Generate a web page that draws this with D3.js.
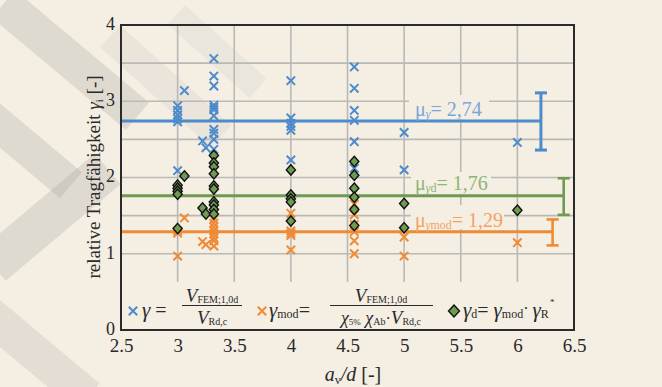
<!DOCTYPE html>
<html><head><meta charset="utf-8">
<script src="https://cdn.jsdelivr.net/npm/d3@7/dist/d3.min.js"></script>
<style>
html,body{margin:0;padding:0;background:#f4eee3;}
svg{display:block;font-family:"Liberation Serif","DejaVu Serif",serif;}
</style></head>
<body><svg id="c" width="662" height="387"></svg>
<script>
// ---- data ----
const xTicks = [2.5, 3, 3.5, 4, 4.5, 5, 5.5, 6, 6.5];
const xTickLabels = ["2.5","3","3.5","4","4.5","5","5.5","6","6.5"];
const yTicks = [0, 1, 2, 3, 4];
const yTickLabels = ["0","1","2","3","4"];
const gridX = [3, 3.5, 4, 4.5, 5, 5.5, 6];
const gridY = [0.5, 1, 1.5, 2, 2.5, 3, 3.5];

// gamma (blue x)
const gammaPts = [
 [3.0,2.94],[3.0,2.88],[3.0,2.82],[3.0,2.77],[3.0,2.73],[3.0,2.09],
 [3.06,3.14],[3.22,2.48],[3.25,2.39],
 [3.32,3.56],[3.32,3.33],[3.32,3.20],[3.32,2.95],[3.32,2.92],[3.32,2.89],[3.32,2.81],[3.32,2.63],[3.32,2.58],[3.32,2.50],[3.32,2.37],
 [4.0,3.27],[4.0,2.78],[4.0,2.71],[4.0,2.67],[4.0,2.62],[4.0,2.23],
 [4.56,3.45],[4.56,3.17],[4.56,2.88],[4.56,2.75],[4.56,2.47],[4.56,2.12],
 [5.0,2.59],[5.0,2.10],
 [6.0,2.46]
];
// gamma_mod (orange x)
const gammaModPts = [
 [3.0,1.30],[3.0,1.27],[3.0,0.97],[3.06,1.47],[3.22,1.16],[3.25,1.12],
 [3.32,1.45],[3.32,1.40],[3.32,1.35],[3.32,1.30],[3.32,1.26],[3.32,1.21],[3.32,1.17],[3.32,1.10],
 [4.0,1.53],[4.0,1.30],[4.0,1.27],[4.0,1.24],[4.0,1.05],
 [4.56,1.65],[4.56,1.51],[4.56,1.38],[4.56,1.29],[4.56,1.17],[4.56,1.00],
 [5.0,1.22],[5.0,0.97],
 [6.0,1.145]
];
// gamma_d (green diamonds)
const gammaDPts = [
 [3.0,1.90],[3.0,1.86],[3.0,1.82],[3.0,1.78],[3.0,1.33],[3.06,2.02],
 [3.22,1.60],[3.25,1.52],
 [3.32,2.29],[3.32,2.19],[3.32,2.14],[3.32,2.05],[3.32,1.89],[3.32,1.85],[3.32,1.68],[3.32,1.64],[3.32,1.58],[3.32,1.52],
 [4.0,2.10],[4.0,1.77],[4.0,1.72],[4.0,1.68],[4.0,1.43],
 [4.56,2.21],[4.56,2.03],[4.56,1.86],[4.56,1.74],[4.56,1.58],[4.56,1.37],
 [5.0,1.66],[5.0,1.34],
 [6.0,1.57]
];
// mean values and scatter bands
const meanNames = ["γ","γd","γmod"];
const meanVals = [2.74, 1.76, 1.29];
const meanLabels = ["2,74","1,76","1,29"];
const bandUpper = [3.11, 1.99, 1.45];
const bandLower = [2.36, 1.51, 1.11];
const bandX = [6.208, 6.409, 6.311];

// ---- styles ----
const C = {blue:"#4d8bcb", orange:"#ef8a35", green:"#6f9a52",
  blueT:"#7aa6d8", greenT:"#8db673", orangeT:"#f3a263",
  grid:"#b9b9b6", frame:"#2b2b2b", bg:"#f4eee3", txt:"#2a2a2a"};
const meanCol = [C.blue, C.green, C.orange];
const meanTxtCol = [C.blueT, C.greenT, C.orangeT];

const W=662,H=387, L=121, R=574, T=25, B=330;
const svg = d3.select("#c");
svg.append("rect").attr("width",W).attr("height",H).attr("fill",C.bg);

// faint watermark bands (decorative background)
const wm = svg.append("g").attr("fill","#8c8a86");
[[15,-10,175,36,40,0.20],[-10,95,120,34,40,0.20],[-20,250,150,40,-40,0.20],[0,300,130,36,40,0.16],
 [120,25,150,30,42,0.09],[185,5,110,26,42,0.08]].forEach(d=>{
  wm.append("rect").attr("x",d[0]).attr("y",d[1]).attr("width",d[2]).attr("height",d[3])
    .attr("transform",`rotate(${d[4]},${d[0]},${d[1]})`).attr("opacity",d[5]);
});

const x = d3.scaleLinear().domain([2.5,6.5]).range([L,R]);
const y = d3.scaleLinear().domain([0,4]).range([B,T]);

// gridlines
const g = svg.append("g");
g.selectAll(".gx").data(gridX).join("line").attr("x1",d=>x(d)).attr("x2",d=>x(d))
  .attr("y1",T).attr("y2",B).attr("stroke",C.grid).attr("stroke-width",1.6);
g.selectAll(".gy").data(gridY).join("line").attr("y1",d=>y(d)).attr("y2",d=>y(d))
  .attr("x1",L).attr("x2",R).attr("stroke",C.grid).attr("stroke-width",1.6);

// label background patches (hide gridlines behind the mean labels)
const labBoxes = [[409,95,80,24],[411,172,80,22],[411,205,93,24]];
svg.selectAll(".lb").data(labBoxes).join("rect").attr("x",d=>d[0]).attr("y",d=>d[1])
  .attr("width",d=>d[2]).attr("height",d=>d[3]).attr("fill",C.bg);

// mean lines
svg.selectAll(".ml").data(meanVals).join("line")
  .attr("x1",L).attr("x2",(d,i)=>x(bandX[i])).attr("y1",d=>y(d)).attr("y2",d=>y(d))
  .attr("stroke",(d,i)=>meanCol[i]).attr("stroke-width",3);
// scatter bands
const eb = svg.append("g");
meanVals.forEach((m,i)=>{
  const xx = x(bandX[i]);
  const gg = eb.append("g").attr("stroke",meanCol[i]).attr("stroke-width",i===0?3:2.6);
  gg.append("line").attr("x1",xx).attr("x2",xx).attr("y1",y(bandUpper[i])).attr("y2",y(bandLower[i]));
  gg.append("line").attr("x1",xx-6).attr("x2",xx+6).attr("y1",y(bandUpper[i])).attr("y2",y(bandUpper[i]));
  gg.append("line").attr("x1",xx-6).attr("x2",xx+6).attr("y1",y(bandLower[i])).attr("y2",y(bandLower[i]));
});

// mean labels
const labelBase = [116, 190, 227];
meanVals.forEach((m,i)=>{
  const t = svg.append("text").attr("x",415).attr("y",labelBase[i]).attr("fill",meanTxtCol[i])
    .attr("font-size",20);
  t.append("tspan").text("μ");
  t.append("tspan").attr("font-size",12).attr("dy",2).attr("font-style","italic").text(meanNames[i].charAt(0))
    .append("tspan").attr("font-style","normal").text(meanNames[i].slice(1));
  t.append("tspan").attr("dy",-2).text("= "+meanLabels[i]);
});

// markers
function cross(sel, col){
  sel.append("path").attr("d","M-4.2,-4.2L4.2,4.2M-4.2,4.2L4.2,-4.2").attr("stroke",col).attr("stroke-width",2).attr("fill","none");
}
const pB = svg.append("g").selectAll("g").data(gammaPts).join("g")
  .attr("transform",d=>`translate(${x(d[0])},${y(d[1])})`);
cross(pB, C.blue);
const pO = svg.append("g").selectAll("g").data(gammaModPts).join("g")
  .attr("transform",d=>`translate(${x(d[0])},${y(d[1])})`);
cross(pO, C.orange);
svg.append("g").selectAll("path").data(gammaDPts).join("path")
  .attr("transform",d=>`translate(${x(d[0])},${y(d[1])})`)
  .attr("d","M0,-5.2L4.6,0L0,5.2L-4.6,0Z").attr("fill",C.green).attr("stroke","#111").attr("stroke-width",1.4);

// legend
const lg = svg.append("g");
lg.append("rect").attr("x",L).attr("y",282).attr("width",R-L).attr("height",B-282).attr("fill",C.bg);
function rich(parent, xx, yy, parts, anchor){
  const t = parent.append("text").attr("x",xx).attr("y",yy).attr("text-anchor",anchor||"start").attr("fill",C.txt);
  let cur=0;
  parts.forEach(p=>{
    const s=t.append("tspan").text(p.t).attr("font-size",p.s||18);
    if(p.i) s.attr("font-style","italic");
    const dy=(p.dy||0)-cur; if(dy) s.attr("dy",dy); cur=p.dy||0;
  });
  return t;
}
// entry 1
lg.append("g").attr("transform","translate(133,311)").call(s=>cross(s,C.blue));
rich(lg,142,317,[{t:"γ",i:1,s:21},{t:" =",s:20}]);
rich(lg,212,302,[{t:"V",i:1,s:19},{t:"FEM;1,0d",s:10,dy:1}],"middle");
lg.append("line").attr("x1",182).attr("x2",242).attr("y1",305.5).attr("y2",305.5).attr("stroke",C.txt).attr("stroke-width",1.2);
rich(lg,212,324,[{t:"V",i:1,s:19},{t:"Rd,c",s:10,dy:1}],"middle");
// entry 2
lg.append("g").attr("transform","translate(262,311)").call(s=>cross(s,C.orange));
rich(lg,269,317,[{t:"γ",i:1,s:21},{t:"mod",s:12,dy:1},{t:"=",s:20,dy:0}]);
rich(lg,381,302,[{t:"V",i:1,s:19},{t:"FEM;1,0d",s:10,dy:1}],"middle");
lg.append("line").attr("x1",330).attr("x2",433).attr("y1",305.5).attr("y2",305.5).attr("stroke",C.txt).attr("stroke-width",1.2);
rich(lg,381,324,[{t:"χ",i:1,s:18},{t:"5%",s:9,dy:1},{t:" χ",i:1,s:18,dy:0},{t:"Ab",s:10,dy:1},{t:"·",s:16,dy:0},{t:"V",i:1,s:19},{t:"Rd,c",s:10,dy:1}],"middle");
// entry 3
lg.append("path").attr("transform","translate(454,311)").attr("d","M0,-6L5.5,0L0,6L-5.5,0Z")
  .attr("fill",C.green).attr("stroke","#111").attr("stroke-width",1.4);
rich(lg,463,317,[{t:"γ",i:1,s:21},{t:"d",s:12,dy:1},{t:"= ",s:20,dy:0},{t:"γ",i:1,s:21},{t:"mod",s:12,dy:1},{t:"· ",s:16,dy:-3},{t:"γ",i:1,s:21,dy:0},{t:"R",s:12,dy:1}]);
lg.append("text").attr("x",550).attr("y",305).attr("font-size",9).attr("fill",C.txt).text("*");

// frame
svg.append("rect").attr("x",L).attr("y",T).attr("width",R-L).attr("height",B-T)
  .attr("fill","none").attr("stroke",C.frame).attr("stroke-width",2);

// axes tick labels
const xa = svg.append("g").attr("transform",`translate(0,${B})`)
  .call(d3.axisBottom(x).tickValues(xTicks).tickFormat((d,i)=>xTickLabels[i]).tickSize(0).tickPadding(9));
xa.select(".domain").remove();
xa.selectAll("text").attr("font-size",19).attr("fill",C.txt).attr("font-family","Liberation Serif, serif");
const ya = svg.append("g").attr("transform",`translate(${L},-1.5)`)
  .call(d3.axisLeft(y).tickValues(yTicks).tickFormat((d,i)=>yTickLabels[i]).tickSize(0).tickPadding(6));
ya.select(".domain").remove();
ya.selectAll("text").attr("font-size",18).attr("fill",C.txt).attr("font-family","Liberation Serif, serif");

// axis titles
const xt = svg.append("text").attr("x",353).attr("y",381).attr("text-anchor","middle").attr("font-size",20).attr("fill",C.txt);
xt.append("tspan").attr("font-style","italic").text("a");
xt.append("tspan").attr("font-size",12).attr("dy",3).text("v");
xt.append("tspan").attr("dy",-3).attr("font-style","italic").text("/d");
xt.append("tspan").text(" [-]");
const yt = svg.append("text").attr("transform","translate(100,177) rotate(-90)").attr("text-anchor","middle")
  .attr("font-size",19).attr("fill",C.txt);
yt.append("tspan").text("relative Tragfähigkeit ");
yt.append("tspan").attr("font-style","italic").text("γ");
yt.append("tspan").attr("font-size",11).attr("dy",3).text("i");
yt.append("tspan").attr("dy",-3).text(" [-]");
</script></body></html>
